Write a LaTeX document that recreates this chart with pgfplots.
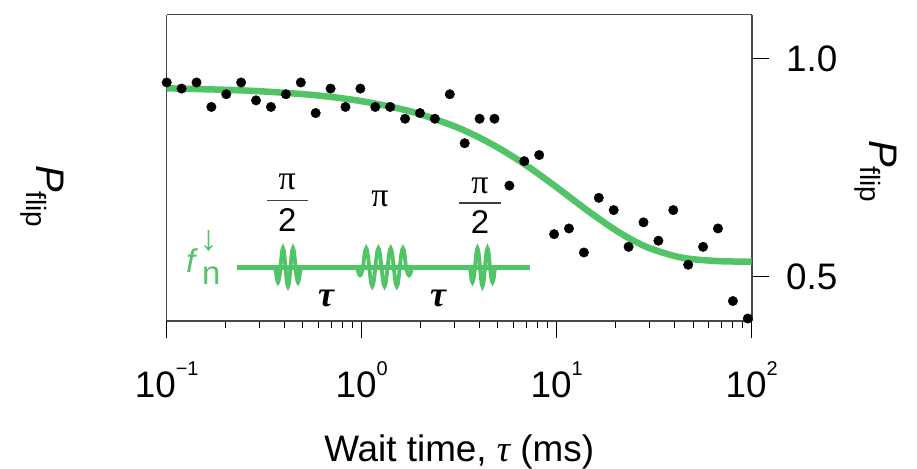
\documentclass[border=0pt]{standalone}
\usepackage{fontspec}
\setmainfont{Liberation Sans}
\newfontfamily\serifgreek{Liberation Serif}
\usepackage{pgfplots}
\pgfplotsset{compat=1.18}
\definecolor{fitgreen}{RGB}{82,196,104}
\newcommand{\tl}[1]{10\raisebox{0.59em}{\fontsize{20}{20}\selectfont #1}}
\begin{document}
\begin{tikzpicture}
\path[use as bounding box] (-166.7bp,-148.3bp) rectangle (750.3bp,320.7bp);
\begin{axis}[
  at={(0,0)}, anchor=south west,
  scale only axis, width=585bp, height=306bp,
  xmode=log, xmin=0.1, xmax=100, ymin=0.4, ymax=1.1,
  xtick={0.1,1,10,100},
  xticklabels={{\tl{−1}},{\tl{0}},{\tl{1}},{\tl{2}}},
  minor xtick={0.2,0.3,0.4,0.5,0.6,0.7,0.8,0.9,2,3,4,5,6,7,8,9,20,30,40,50,60,70,80,90},
  ytick={0.5,1.0}, yticklabels={0.5,1.0},
  xtick pos=left, ytick pos=right, xticklabel pos=left, yticklabel pos=right,
  tick align=outside,
  major tick length=17.6bp, minor tick length=7.7bp,
  separate axis lines,
  axis line style={draw=black!72, line width=1.6bp},
  every tick/.style={black, line width=1bp},
  minor tick style={black, line width=1bp},
  ticklabel style={font=\fontsize{37}{44}\selectfont, inner sep=0pt},
  xticklabel style={anchor=base, yshift=-59bp},
  yticklabel style={anchor=west, xshift=16.7bp},
  clip=true,
]
\addplot[fitgreen, line width=6.5bp, smooth, no markers] coordinates {
(0.1,0.9316) (0.2,0.9282) (0.3,0.9249) (0.5,0.9183) (0.7,0.9118) (1,0.9022)
(1.5,0.8869) (2,0.8722) (3,0.8445) (4,0.8192) (5,0.7959) (6,0.7745) (7,0.7549)
(8,0.7369) (10,0.7052) (12,0.6784) (15,0.6460) (20,0.6074) (25,0.5822)
(30,0.5658) (40,0.5481) (50,0.5406) (70,0.5360) (100,0.5351)
};
\addplot[only marks, mark=*, mark size=4.75bp, black] coordinates {
(0.1,0.945) (0.1192,0.931) (0.1422,0.945) (0.1695,0.889) (0.2021,0.918)
(0.2409,0.945) (0.2872,0.904) (0.3425,0.889) (0.4088,0.918) (0.4872,0.945)
(0.5808,0.875) (0.6927,0.931) (0.8258,0.889) (0.9848,0.931) (1.1742,0.889)
(1.400,0.889) (1.669,0.862) (1.990,0.875) (2.373,0.862) (2.830,0.918)
(3.374,0.806) (4.024,0.862) (4.797,0.862) (5.721,0.709) (6.821,0.765)
(8.133,0.779) (9.698,0.598) (11.56,0.611) (13.79,0.556) (16.44,0.681)
(19.60,0.653) (23.37,0.569) (27.87,0.625) (33.23,0.583) (39.62,0.653)
(47.24,0.528) (56.33,0.569) (67.16,0.611) (80.10,0.445) (95.50,0.405)
};
\end{axis}
\begin{scope}[shift={(-166.7bp,320.7bp)}, x=1bp, y=-1bp]
  % pulse sequence
  \draw[fitgreen, line width=4.5bp] (236.7,267.3) -- (530,267.3);
  \draw[fitgreen, line width=3.8bp] (275.5,267.3)
    sin ++(2.5,15) cos ++(2.5,-15) sin ++(2.5,-19) cos ++(2.5,19)
    sin ++(2.5,19) cos ++(2.5,-19) sin ++(2.5,-19) cos ++(2.5,19)
    sin ++(2.5,15) cos ++(2.5,-15);
  \draw[fitgreen, line width=3.8bp] (357,267.3)
    sin ++(3.06,8) cos ++(3.06,-8) sin ++(3.06,-19) cos ++(3.06,19)
    sin ++(3.06,19) cos ++(3.06,-19) sin ++(3.06,-19) cos ++(3.06,19)
    sin ++(3.06,19) cos ++(3.06,-19) sin ++(3.06,-19) cos ++(3.06,19)
    sin ++(3.06,19) cos ++(3.06,-19) sin ++(3.06,-19) cos ++(3.06,19)
    sin ++(3.06,8) cos ++(3.06,-8);
  \draw[fitgreen, line width=3.8bp] (470,267.3)
    sin ++(2.5,15) cos ++(2.5,-15) sin ++(2.5,-19) cos ++(2.5,19)
    sin ++(2.5,19) cos ++(2.5,-19) sin ++(2.5,-19) cos ++(2.5,19)
    sin ++(2.5,15) cos ++(2.5,-15);
  % pulse labels
  \node[anchor=base, inner sep=0pt] at (287.3,190) {\fontsize{34}{40}\selectfont\serifgreek π};
  \draw[line width=1.5bp, black!75] (267,200.5) -- (308,200.5);
  \node[anchor=base, inner sep=0pt] at (287.3,232) {\fontsize{33}{40}\selectfont 2};
  \node[anchor=base, inner sep=0pt] at (380,206.7) {\fontsize{34}{40}\selectfont\serifgreek π};
  \node[anchor=base, inner sep=0pt] at (480,194) {\fontsize{34}{40}\selectfont\serifgreek π};
  \draw[line width=1.5bp, black!75] (459,203) -- (501,203);
  \node[anchor=base, inner sep=0pt] at (480,234) {\fontsize{33}{40}\selectfont 2};
  \node[anchor=base, inner sep=0pt] at (326,307) {\fontsize{36}{42}\selectfont\serifgreek\bfseries\itshape τ};
  \node[anchor=base, inner sep=0pt] at (438,307) {\fontsize{36}{42}\selectfont\serifgreek\bfseries\itshape τ};
  \node[anchor=base west, inner sep=0pt, text=fitgreen] at (186,273) {\fontsize{33}{40}\selectfont\itshape f};
  \node[anchor=base west, inner sep=0pt, text=fitgreen] at (202,285) {\fontsize{33}{40}\selectfont n};
  \node[anchor=center, inner sep=0pt, text=fitgreen] at (208.5,241) {\fontsize{36}{40}\selectfont ↓};
  % axis labels
  \node[anchor=base, inner sep=0pt] at (459.2,461.7) {\fontsize{37}{44}\selectfont Wait time, {\serifgreek\itshape τ} (ms)};
  \node[rotate=-90, anchor=base west, inner sep=0pt] at (36.7,165)
    {\fontsize{40}{48}\selectfont\itshape P\upshape\raisebox{-0.25em}{\fontsize{28}{28}\selectfont flip}};
  \node[rotate=-90, anchor=base west, inner sep=0pt] at (870,140)
    {\fontsize{40}{48}\selectfont\itshape P\upshape\raisebox{-0.25em}{\fontsize{28}{28}\selectfont flip}};
\end{scope}
\end{tikzpicture}
\end{document}
